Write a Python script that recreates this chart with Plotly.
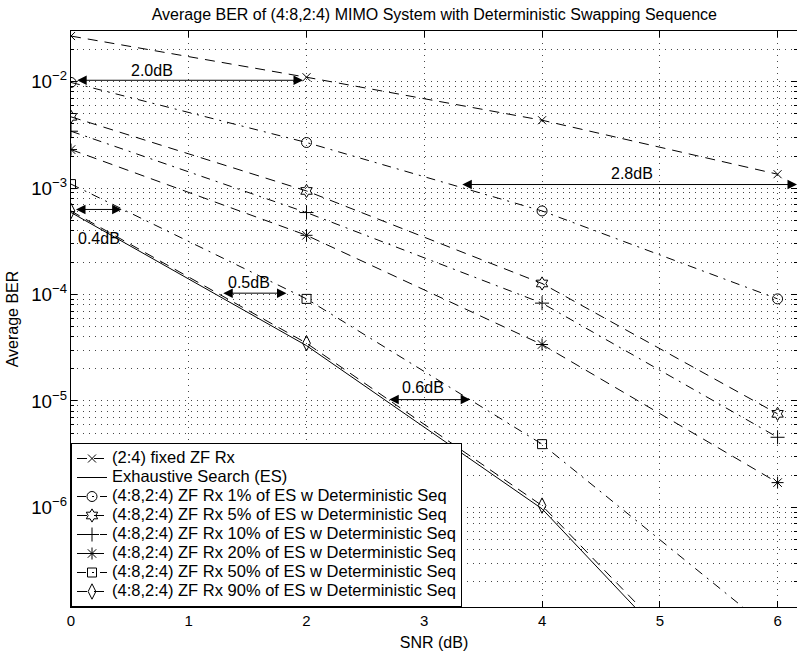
import numpy as np
import plotly.graph_objects as go

# SNR points (dB)
snr_db = [0, 2, 4, 6]

# Average BER per receiver configuration
ber_fixed_zf = [2.68e-2, 1.10e-2, 4.34e-3, 1.35e-3]
ber_es = [5.9e-4, 3.31e-5, 9.7e-7, 4.4e-9]
ber_1pct = [9.83e-3, 2.68e-3, 6.1e-4, 9.1e-5]
ber_5pct = [4.67e-3, 9.4e-4, 1.27e-4, 7.57e-6]
ber_10pct = [3.42e-3, 5.89e-4, 8.3e-5, 4.56e-6]
ber_20pct = [2.3e-3, 3.6e-4, 3.39e-5, 1.71e-6]
ber_50pct = [1.09e-3, 9.1e-5, 3.93e-6, 6.3e-8]
ber_90pct = [6.09e-4, 3.49e-5, 1.04e-6, 5.3e-9]

series_names = [
    "(2:4) fixed ZF Rx",
    "Exhaustive Search (ES)",
    "(4:8,2:4) ZF Rx 1% of ES w Deterministic Seq",
    "(4:8,2:4) ZF Rx 5% of ES w Deterministic Seq",
    "(4:8,2:4) ZF Rx 10% of ES w Deterministic Seq",
    "(4:8,2:4) ZF Rx 20% of ES w Deterministic Seq",
    "(4:8,2:4) ZF Rx 50% of ES w Deterministic Seq",
    "(4:8,2:4) ZF Rx 90% of ES w Deterministic Seq",
]
series_values = [ber_fixed_zf, ber_es, ber_1pct, ber_5pct,
                 ber_10pct, ber_20pct, ber_50pct, ber_90pct]

# SNR gap markers: label, arrow from/to SNR, BER level, label position
gap_labels = ["2.0dB", "0.4dB", "0.5dB", "0.6dB", "2.8dB"]
gap_x0 = [0.04, 0.03, 1.28, 2.69, 3.31]
gap_x1 = [1.97, 0.43, 1.83, 3.39, 6.165]
gap_ber = [1.03e-2, 6.3e-4, 1.03e-4, 1.03e-5, 1.08e-3]
gap_text_x = [0.685, 0.24, 1.514, 2.99, 4.765]
gap_text_ber = [1.28e-2, 3.35e-4, 1.31e-4, 1.33e-5, 1.37e-3]

DASH = "10px,7px"
DASHDOT = "9px,6px,2px,6px"
styles = [
    dict(dash=DASH, symbol="x-thin", size=8),
    dict(dash="solid", symbol=None, size=0),
    dict(dash=DASHDOT, symbol="circle-open", size=10),
    dict(dash=DASH, symbol="hexagram-open", size=10),
    dict(dash=DASHDOT, symbol="cross-thin", size=10),
    dict(dash=DASH, symbol="asterisk", size=10),
    dict(dash=DASHDOT, symbol="square-open", size=9),
    dict(dash=DASH, symbol="diamond-tall-open", size=11),
]

FONT = "Liberation Sans, Arial, Helvetica, sans-serif"
TEXT_PX = 16
LEGEND_PX = 16.5

fig = go.Figure()
for name, vals, st in zip(series_names, series_values, styles):
    mode = "lines+markers" if st["symbol"] else "lines"
    kw = {}
    if st["symbol"]:
        kw["marker"] = dict(symbol=st["symbol"], size=st["size"], color="black",
                            line=dict(color="black", width=1))
    fig.add_trace(go.Scatter(
        x=snr_db, y=vals, mode=mode,
        name=f'<span style="font-size:{LEGEND_PX}px">{name}</span>',
        line=dict(color="black", width=1, dash=st["dash"]),
        **kw,
    ))

annotations = []
for lab, x0, x1, b, tx, tb in zip(gap_labels, gap_x0, gap_x1, gap_ber,
                                   gap_text_x, gap_text_ber):
    annotations.append(dict(
        x=x1, y=np.log10(b), ax=x0, ay=np.log10(b),
        xref="x", yref="y", axref="x", ayref="y",
        text="", showarrow=True, arrowhead=2, startarrowhead=2,
        arrowside="end+start", arrowsize=1.9, startarrowsize=1.9,
        arrowwidth=1, arrowcolor="black",
    ))
    annotations.append(dict(
        x=tx, y=np.log10(tb), xref="x", yref="y", text=lab,
        showarrow=False, font=dict(family=FONT, size=TEXT_PX, color="black"),
    ))

grid_color = "rgb(70,70,70)"
grid_dash = "1px,5px"

fig.update_layout(
    width=797, height=655,
    margin=dict(l=71, r=0, t=31, b=48),
    paper_bgcolor="white", plot_bgcolor="white",
    font=dict(family=FONT, size=15, color="black"),
    title=dict(
        text="Average BER of (4:8,2:4) MIMO System with Deterministic Swapping Sequence",
        x=0.545, xanchor="center", y=1 - 14 / 655, yanchor="middle",
        font=dict(family=FONT, size=16, color="black"),
    ),
    xaxis=dict(
        range=[0, 6.165], tickvals=[0, 1, 2, 3, 4, 5, 6],
        ticks="inside", ticklen=6, tickcolor="black",
        showline=True, linecolor="black", linewidth=1, mirror="ticks",
        showgrid=True, gridcolor=grid_color, griddash=grid_dash, gridwidth=1,
        zeroline=False,
        title=dict(text="SNR (dB)", standoff=8, font=dict(size=TEXT_PX)),
        tickfont=dict(size=15),
    ),
    yaxis=dict(
        type="log",
        range=[np.log10(1.16e-7), np.log10(2.99e-2)],
        dtick=1, exponentformat="power",
        ticks="inside", ticklen=6, tickcolor="black",
        showline=True, linecolor="black", linewidth=1, mirror="ticks",
        showgrid=True, gridcolor=grid_color, griddash=grid_dash, gridwidth=1,
        zeroline=False,
        minor=dict(dtick="D1", ticks="inside", ticklen=3, tickcolor="black",
                   showgrid=True, gridcolor=grid_color, griddash=grid_dash,
                   gridwidth=1),
        title=dict(text="Average BER", standoff=8, font=dict(size=TEXT_PX)),
        tickfont=dict(size=15),
    ),
    legend=dict(
        x=0, y=0, xanchor="left", yanchor="bottom",
        bgcolor="white", bordercolor="black", borderwidth=1,
        font=dict(family=FONT, size=11, color="black"),
        tracegroupgap=0, itemwidth=30,
    ),
    annotations=annotations,
    showlegend=True,
)

fig.write_html("out.html")
